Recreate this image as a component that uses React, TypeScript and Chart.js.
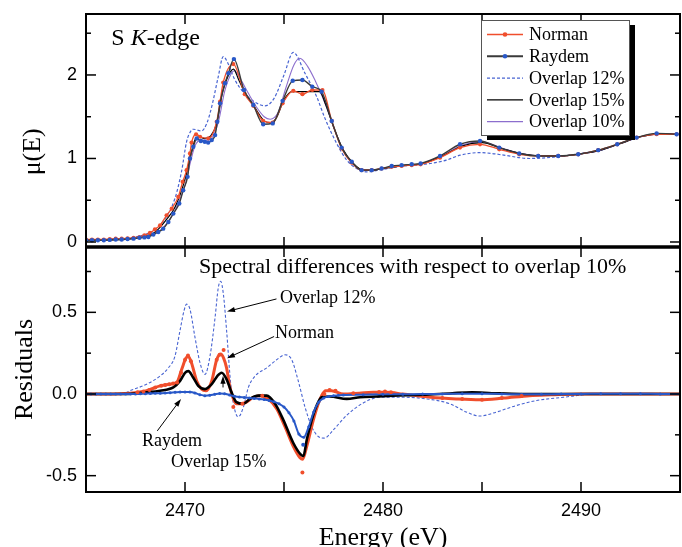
import React, { useEffect, useRef } from 'react';
import { Chart, registerables } from 'chart.js';

Chart.register(...registerables);

// ---------------- Top panel: mu(E) ----------------
const raydemE = [2465.0, 2465.3, 2465.6, 2465.9, 2466.2, 2466.5, 2466.8, 2467.1, 2467.4, 2467.7, 2467.95, 2468.15, 2468.4, 2468.65, 2468.9, 2469.16, 2469.41, 2469.71, 2469.91, 2470.13, 2470.25, 2470.42, 2470.59, 2470.8, 2471.0, 2471.17, 2471.35, 2471.52, 2471.63, 2471.77, 2472.02, 2472.19, 2472.47, 2472.98, 2473.45, 2473.95, 2474.43, 2474.93, 2475.44, 2475.93, 2476.43, 2476.9, 2477.41, 2477.91, 2478.42, 2478.92, 2479.43, 2479.93, 2480.44, 2480.94, 2481.45, 2481.9, 2482.88, 2483.89, 2484.9, 2485.87, 2486.88, 2487.84, 2488.85, 2489.86, 2490.87, 2491.83, 2492.81, 2493.82, 2494.83];
const raydemMu = [0.02, 0.02, 0.02, 0.02, 0.025, 0.03, 0.03, 0.035, 0.04, 0.05, 0.055, 0.06, 0.09, 0.12, 0.16, 0.24, 0.34, 0.46, 0.62, 0.78, 1.0, 1.14, 1.24, 1.21, 1.2, 1.19, 1.22, 1.28, 1.44, 1.66, 1.9, 2.02, 2.19, 1.82, 1.64, 1.41, 1.42, 1.69, 1.93, 1.94, 1.86, 1.8, 1.45, 1.13, 0.96, 0.86, 0.86, 0.88, 0.91, 0.92, 0.93, 0.94, 1.03, 1.17, 1.21, 1.13, 1.06, 1.03, 1.03, 1.05, 1.1, 1.17, 1.25, 1.3, 1.29];

const normanE = [2465.0, 2465.3, 2465.6, 2465.9, 2466.2, 2466.5, 2466.8, 2467.1, 2467.4, 2467.7, 2467.95, 2468.23, 2468.48, 2468.74, 2469.07, 2469.33, 2469.66, 2469.88, 2470.08, 2470.25, 2470.33, 2470.56, 2470.76, 2471.18, 2471.6, 2471.77, 2471.93, 2472.44, 2473.02, 2473.45, 2473.95, 2474.43, 2474.93, 2475.47, 2475.93, 2476.43, 2476.94, 2477.41, 2477.91, 2478.42, 2478.92, 2479.43, 2479.93, 2480.44, 2480.94, 2481.45, 2481.9, 2482.88, 2483.89, 2484.9, 2485.87, 2486.88, 2487.84, 2488.85, 2489.86, 2490.87, 2491.83, 2492.81, 2493.82, 2494.83];
const normanMu = [0.03, 0.03, 0.03, 0.03, 0.035, 0.04, 0.04, 0.045, 0.05, 0.06, 0.08, 0.11, 0.15, 0.2, 0.32, 0.4, 0.54, 0.72, 0.86, 1.06, 1.19, 1.29, 1.26, 1.24, 1.44, 1.68, 1.91, 2.13, 1.77, 1.63, 1.45, 1.43, 1.66, 1.81, 1.77, 1.82, 1.82, 1.45, 1.12, 0.95, 0.86, 0.86, 0.88, 0.9, 0.91, 0.92, 0.93, 1.01, 1.13, 1.17, 1.11, 1.05, 1.03, 1.03, 1.05, 1.1, 1.17, 1.25, 1.29, 1.29];

const ov15E = [2465, 2466, 2467, 2467.5, 2468, 2468.5, 2469, 2469.5, 2470, 2470.3, 2470.5, 2470.7, 2471.0, 2471.3, 2471.6, 2471.9, 2472.2, 2472.45, 2472.7, 2473.0, 2473.5, 2474.0, 2474.3, 2474.6, 2475.0, 2475.4, 2476.0, 2476.8, 2477.1, 2477.5, 2478.0, 2478.5, 2479.0, 2479.5, 2480, 2481, 2482, 2483, 2484, 2485, 2486, 2487, 2488, 2489, 2490, 2491, 2492, 2493, 2494, 2495];
const ov15Mu = [0.02, 0.025, 0.035, 0.05, 0.07, 0.12, 0.25, 0.42, 0.75, 1.05, 1.22, 1.26, 1.24, 1.27, 1.42, 1.8, 2.0, 2.07, 1.95, 1.8, 1.62, 1.45, 1.43, 1.48, 1.7, 1.8, 1.8, 1.8, 1.65, 1.38, 1.1, 0.94, 0.86, 0.86, 0.88, 0.915, 0.94, 1.03, 1.15, 1.19, 1.12, 1.055, 1.03, 1.03, 1.055, 1.1, 1.18, 1.26, 1.295, 1.29];

const ov10E = [2465, 2466, 2467, 2467.5, 2468, 2468.5, 2469, 2469.5, 2470, 2470.3, 2470.5, 2470.8, 2471.1, 2471.4, 2471.7, 2472.0, 2472.3, 2472.5, 2472.8, 2473.2, 2473.6, 2474.0, 2474.3, 2474.7, 2475.1, 2475.5, 2475.8, 2476.2, 2476.6, 2476.9, 2477.2, 2477.5, 2478.0, 2478.5, 2479.0, 2479.5, 2480, 2481, 2482, 2483, 2484, 2485, 2486, 2487, 2488, 2489, 2490, 2491, 2492, 2493, 2494, 2495];
const ov10Mu = [0.02, 0.025, 0.035, 0.045, 0.065, 0.1, 0.2, 0.38, 0.68, 0.98, 1.15, 1.22, 1.22, 1.26, 1.45, 1.8, 2.0, 2.05, 1.95, 1.78, 1.62, 1.5, 1.47, 1.55, 1.85, 2.12, 2.2, 2.1, 1.92, 1.76, 1.58, 1.38, 1.09, 0.93, 0.86, 0.86, 0.88, 0.915, 0.94, 1.035, 1.16, 1.2, 1.125, 1.06, 1.03, 1.03, 1.055, 1.1, 1.18, 1.26, 1.295, 1.29];

const ov12E = [2465, 2466, 2467, 2467.5, 2468.2, 2468.9, 2469.49, 2469.83, 2470.08, 2470.3, 2470.42, 2470.84, 2471.1, 2471.35, 2471.68, 2471.93, 2472.15, 2472.5, 2473.0, 2473.5, 2474.04, 2474.5, 2475.0, 2475.47, 2476.06, 2476.65, 2477.07, 2477.66, 2478.17, 2478.67, 2479.2, 2480, 2480.7, 2481.5, 2482.4, 2483.2, 2483.9, 2484.9, 2485.5, 2486.1, 2487.4, 2488.8, 2490, 2491, 2492, 2493, 2494, 2495];
const ov12Mu = [0.02, 0.03, 0.045, 0.06, 0.11, 0.25, 0.52, 0.85, 1.2, 1.33, 1.35, 1.33, 1.42, 1.62, 1.98, 2.22, 2.15, 1.95, 1.78, 1.68, 1.63, 1.72, 2.0, 2.27, 2.02, 1.74, 1.48, 1.18, 0.98, 0.88, 0.84, 0.87, 0.9, 0.92, 0.94, 0.98, 1.04, 1.07, 1.06, 1.04, 1.0, 1.02, 1.06, 1.1, 1.18, 1.26, 1.295, 1.29];

// ---------------- Bottom panel: residuals vs overlap 10% ----------------
const res12E = [2465, 2466, 2466.9, 2467.22, 2468.06, 2468.74, 2469.16, 2469.49, 2469.75, 2469.95, 2470.08, 2470.25, 2470.5, 2470.76, 2471.01, 2471.26, 2471.52, 2471.68, 2471.8, 2471.94, 2472.1, 2472.31, 2472.52, 2472.69, 2472.95, 2473.2, 2473.54, 2474.13, 2474.63, 2475.05, 2475.39, 2475.72, 2476.06, 2476.4, 2476.73, 2477.04, 2477.49, 2478.17, 2479.0, 2479.85, 2481.0, 2482.2, 2483.38, 2484.2, 2484.9, 2485.74, 2486.75, 2487.76, 2489.1, 2490.8, 2492, 2495];
const res12V = [0, 0, 0.003, 0.02, 0.06, 0.11, 0.16, 0.23, 0.39, 0.51, 0.55, 0.52, 0.35, 0.19, 0.12, 0.23, 0.47, 0.65, 0.69, 0.61, 0.39, 0.06, -0.1, -0.14, -0.08, 0.04, 0.11, 0.16, 0.21, 0.24, 0.21, 0.08, -0.08, -0.2, -0.26, -0.27, -0.22, -0.13, -0.055, -0.02, -0.02, -0.03, -0.06, -0.11, -0.135, -0.11, -0.07, -0.04, -0.02, 0, 0, 0];

const resNormanE = [2465, 2466, 2467.22, 2468.06, 2468.74, 2469.24, 2469.58, 2469.83, 2470.05, 2470.17, 2470.33, 2470.59, 2470.84, 2471.06, 2471.35, 2471.6, 2471.8, 2471.95, 2472.1, 2472.27, 2472.6, 2472.85, 2473.1, 2473.45, 2473.79, 2474.2, 2474.63, 2475.05, 2475.47, 2475.81, 2475.94, 2476.15, 2476.48, 2476.73, 2476.9, 2477.1, 2477.4, 2478, 2478.8, 2479.5, 2480.2, 2481, 2482.4, 2483.7, 2484.9, 2486.08, 2487.4, 2488.5, 2490, 2495];
const resNormanV = [0, 0, 0.005, 0.02, 0.05, 0.06, 0.07, 0.15, 0.22, 0.23, 0.19, 0.08, 0.03, 0.02, 0.08, 0.21, 0.245, 0.22, 0.16, 0.04, -0.06, -0.06, -0.05, -0.02, -0.01, -0.03, -0.09, -0.2, -0.32, -0.39, -0.4, -0.32, -0.16, -0.06, -0.01, 0.02, 0.02, 0.0, 0.005, 0.01, 0.01, 0.0, -0.02, -0.03, -0.035, -0.025, -0.01, -0.005, 0, 0];

const resNormanDotE = [2467.6, 2467.9, 2468.2, 2468.5, 2468.8, 2469.0, 2469.2, 2469.4, 2469.6, 2469.8, 2470.0, 2470.15, 2470.3, 2471.6, 2471.75, 2471.95, 2472.44, 2472.9, 2473.9, 2475.93, 2477.04, 2477.3, 2477.6, 2478.5, 2479.8, 2480.1, 2480.4, 2483.0, 2484.0, 2485.0, 2486.0, 2487.0];
const resNormanDotV = [0.01, 0.015, 0.025, 0.04, 0.05, 0.055, 0.06, 0.065, 0.07, 0.13, 0.21, 0.235, 0.2, 0.21, 0.24, 0.27, -0.08, -0.06, -0.01, -0.48, 0.0, 0.025, 0.02, 0.005, 0.012, 0.015, 0.01, -0.025, -0.03, -0.035, -0.025, -0.012];

const res15E = [2465, 2467, 2468, 2468.74, 2469.41, 2469.75, 2470.0, 2470.17, 2470.42, 2470.67, 2471.01, 2471.35, 2471.63, 2471.85, 2472.1, 2472.35, 2472.6, 2472.95, 2473.28, 2473.7, 2474.13, 2474.55, 2474.97, 2475.47, 2475.84, 2475.98, 2476.15, 2476.4, 2476.65, 2476.9, 2477.32, 2478.17, 2478.84, 2479.68, 2480.5, 2482, 2483.5, 2484.5, 2485.5, 2487, 2490, 2495];
const res15V = [0, 0, 0.01, 0.02, 0.04, 0.08, 0.13, 0.14, 0.1, 0.05, 0.03, 0.06, 0.11, 0.13, 0.09, 0.01, -0.05, -0.06, -0.03, -0.01, -0.01, -0.06, -0.16, -0.3, -0.37, -0.38, -0.28, -0.16, -0.07, -0.02, -0.015, -0.03, -0.02, -0.015, -0.01, -0.005, 0.005, 0.01, 0.005, 0, 0, 0];

const resRaydemE = [2465.0, 2465.25, 2465.5, 2465.75, 2466.0, 2466.25, 2466.5, 2466.75, 2467.0, 2467.25, 2467.5, 2467.75, 2468.0, 2468.25, 2468.5, 2468.75, 2469.0, 2469.25, 2469.5, 2469.75, 2470.0, 2470.25, 2470.5, 2470.75, 2471.0, 2471.25, 2471.5, 2471.75, 2472.0, 2472.25, 2472.5, 2472.75, 2473.0, 2473.25, 2473.5, 2473.75, 2474.0, 2474.25, 2474.5, 2474.75, 2475.0, 2475.25, 2475.5, 2475.75, 2476.0, 2476.25, 2476.5, 2476.75, 2477.0, 2477.25, 2477.5, 2477.75, 2478.0, 2479, 2480, 2481, 2482, 2483, 2484, 2485, 2486, 2487, 2488, 2489, 2490, 2491, 2492, 2493, 2494, 2495];
const resRaydemV = [0, 0, 0, 0, 0, 0, 0, 0, 0, 0, 0, 0.001, 0.002, 0.003, 0.004, 0.005, 0.006, 0.008, 0.01, 0.012, 0.013, 0.012, 0.006, -0.004, -0.01, -0.008, -0.002, 0.003, 0.002, -0.006, -0.014, -0.019, -0.021, -0.024, -0.027, -0.03, -0.034, -0.04, -0.048, -0.06, -0.08, -0.115, -0.165, -0.245, -0.265, -0.2, -0.11, -0.05, -0.025, -0.015, -0.01, -0.008, -0.006, -0.004, -0.002, -0.002, 0, 0, 0.002, 0.002, 0, -0.002, -0.002, 0, 0, 0.002, 0.002, 0.002, 0, 0];

const resRaydemDotE = [2475.97];
const resRaydemDotV = [-0.31];

// ---------------- Axes ----------------
const energyRange = [2465, 2495];
const energyTickLabels = [2470, 2480, 2490];
const energyMinorTicks = [2475, 2485];
const muRange = [-0.06, 2.73];
const muTicks = [0, 1, 2];
const muMinorTicks = [0.5, 1.5, 2.5];
const resRange = [-0.6, 0.9];
const resTicks = [-0.5, 0, 0.5];
const resMinorTicks = [-0.25, 0.25, 0.75];

const legendOrder = ['Norman', 'Raydem', 'Overlap 12%', 'Overlap 15%', 'Overlap 10%'];

// annotations (data coordinates of bottom panel)
const resTitle = { text: 'Spectral differences with respect to overlap 10%', x: 2470.71, y: 0.743 };
const resLabels = [
  { text: 'Overlap 12%', x: 2474.8, y: 0.556 },
  { text: 'Norman', x: 2474.55, y: 0.345 },
  { text: 'Raydem', x: 2467.83, y: -0.318 },
  { text: 'Overlap 15%', x: 2469.29, y: -0.446 },
];
const resArrows = [
  { from: [2474.62, 0.582], to: [2472.12, 0.505] },
  { from: [2474.5, 0.352], to: [2472.12, 0.219] },
  { from: [2468.6, -0.226], to: [2469.8, -0.03] },
  { from: [2471.92, 0.04], to: [2471.92, 0.112] },
];
const topLabelPos = { x: 2466.28, y: 2.36 };

const RED = 'rgb(240,78,44)';
const BLUE = 'rgb(40,88,200)';
const DASHBLUE = 'rgb(72,100,210)';
const PURPLE = 'rgb(140,110,205)';
const SERIF = "'Liberation Serif', 'Times New Roman', serif";
const SANS = "'Liberation Sans', Arial, sans-serif";

const pts = (xs: number[], ys: number[]) => xs.map((x, i) => ({ x, y: ys[i] }));

function line(ctx: CanvasRenderingContext2D, x1: number, y1: number, x2: number, y2: number) {
  ctx.beginPath();
  ctx.moveTo(x1, y1);
  ctx.lineTo(x2, y2);
  ctx.stroke();
}

function drawBox(chart: any, yMajor: number[], yMinor: number[], divider: 'top' | 'bottom') {
  const { ctx, chartArea: a } = chart;
  const xs = chart.scales.x;
  const ys = chart.scales.y;
  const MAJ = 10, MIN = 5;
  ctx.save();
  ctx.strokeStyle = '#000';
  ctx.lineWidth = 1.5;
  energyTickLabels.forEach((v) => {
    const p = xs.getPixelForValue(v);
    line(ctx, p, a.top, p, a.top + MAJ);
    line(ctx, p, a.bottom, p, a.bottom - MAJ);
  });
  energyMinorTicks.forEach((v) => {
    const p = xs.getPixelForValue(v);
    line(ctx, p, a.top, p, a.top + MAJ);
    line(ctx, p, a.bottom, p, a.bottom - MAJ);
  });
  yMajor.forEach((v) => {
    const p = ys.getPixelForValue(v);
    line(ctx, a.left, p, a.left + MAJ, p);
    line(ctx, a.right, p, a.right - MAJ, p);
  });
  yMinor.forEach((v) => {
    const p = ys.getPixelForValue(v);
    line(ctx, a.left, p, a.left + MIN, p);
    line(ctx, a.right, p, a.right - MIN, p);
  });
  ctx.lineWidth = 2;
  ctx.strokeRect(a.left, a.top, a.right - a.left, a.bottom - a.top);
  ctx.lineWidth = 3;
  const dy = divider === 'bottom' ? a.bottom : a.top;
  line(ctx, a.left - 1, dy, a.right + 1, dy);
  ctx.restore();
}

function arrow(ctx: CanvasRenderingContext2D, x1: number, y1: number, x2: number, y2: number) {
  const ang = Math.atan2(y2 - y1, x2 - x1);
  const L = 8, W = 2.6;
  ctx.beginPath();
  ctx.moveTo(x1, y1);
  ctx.lineTo(x2 - Math.cos(ang) * 4, y2 - Math.sin(ang) * 4);
  ctx.stroke();
  ctx.beginPath();
  ctx.moveTo(x2, y2);
  ctx.lineTo(x2 - L * Math.cos(ang) + W * Math.sin(ang), y2 - L * Math.sin(ang) - W * Math.cos(ang));
  ctx.lineTo(x2 - L * Math.cos(ang) - W * Math.sin(ang), y2 - L * Math.sin(ang) + W * Math.cos(ang));
  ctx.closePath();
  ctx.fill();
}

const topDecor = {
  id: 'topDecor',
  afterDraw(chart: any) {
    const { ctx, chartArea: a } = chart;
    const xs = chart.scales.x;
    const ys = chart.scales.y;
    drawBox(chart, muTicks, muMinorTicks, 'bottom');
    ctx.save();
    ctx.fillStyle = '#000';
    ctx.textBaseline = 'alphabetic';
    ctx.textAlign = 'left';
    let x = xs.getPixelForValue(topLabelPos.x);
    const y = ys.getPixelForValue(topLabelPos.y);
    ctx.font = `24px ${SERIF}`;
    ctx.fillText('S ', x, y);
    x += ctx.measureText('S ').width;
    ctx.font = `italic 24px ${SERIF}`;
    ctx.fillText('K', x, y);
    x += ctx.measureText('K').width;
    ctx.font = `24px ${SERIF}`;
    ctx.fillText('-edge', x, y);

    ctx.save();
    ctx.translate(a.left - 53, ys.getPixelForValue(1.08));
    ctx.rotate(-Math.PI / 2);
    ctx.font = `26px ${SERIF}`;
    ctx.textAlign = 'center';
    ctx.textBaseline = 'middle';
    ctx.fillText('\u03bc(E)', 0, 0);
    ctx.restore();

    const bw = 148, bh = 115;
    const bx = a.right - 199, by = a.top + 6;
    ctx.fillStyle = '#000';
    ctx.fillRect(bx + 6, by + 5, bw, bh);
    ctx.fillStyle = '#fff';
    ctx.fillRect(bx, by, bw, bh);
    ctx.strokeStyle = '#555';
    ctx.lineWidth = 1;
    ctx.strokeRect(bx + 0.5, by + 0.5, bw, bh);
    ctx.font = `18px ${SERIF}`;
    ctx.textBaseline = 'middle';
    legendOrder.forEach((name, i) => {
      const ds = chart.data.datasets.find((d: any) => d.label === name);
      const ry = by + 14.5 + i * 21.8;
      ctx.save();
      ctx.strokeStyle = ds.borderColor;
      ctx.lineWidth = name === 'Raydem' ? 2 : 1.3;
      ctx.setLineDash(ds.borderDash || []);
      line(ctx, bx + 6, ry, bx + 42, ry);
      ctx.setLineDash([]);
      if (ds.pointRadius > 0) {
        ctx.fillStyle = ds.pointBackgroundColor;
        ctx.beginPath();
        ctx.arc(bx + 24, ry, 2.3, 0, Math.PI * 2);
        ctx.fill();
      }
      ctx.restore();
      ctx.fillStyle = '#000';
      ctx.fillText(name, bx + 48, ry + 1);
    });
    ctx.restore();
  },
};

const botDecor = {
  id: 'botDecor',
  afterDraw(chart: any) {
    const { ctx } = chart;
    const xs = chart.scales.x;
    const ys = chart.scales.y;
    drawBox(chart, resTicks, resMinorTicks, 'top');
    ctx.save();
    ctx.fillStyle = '#000';
    ctx.strokeStyle = '#000';
    ctx.lineWidth = 1;
    ctx.textAlign = 'left';
    ctx.textBaseline = 'alphabetic';
    ctx.font = `22px ${SERIF}`;
    ctx.fillText(resTitle.text, xs.getPixelForValue(resTitle.x), ys.getPixelForValue(resTitle.y));
    ctx.font = `18px ${SERIF}`;
    resLabels.forEach((l) => ctx.fillText(l.text, xs.getPixelForValue(l.x), ys.getPixelForValue(l.y)));
    resArrows.forEach((ar) =>
      arrow(
        ctx,
        xs.getPixelForValue(ar.from[0]),
        ys.getPixelForValue(ar.from[1]),
        xs.getPixelForValue(ar.to[0]),
        ys.getPixelForValue(ar.to[1])
      )
    );
    ctx.restore();
  },
};

const yTickFont = { family: SANS, size: 18 };

const fixY = (s: any) => {
  s.width = 86;
  s.paddingTop = 0;
  s.paddingBottom = 0;
};

function topConfig(): any {
  return {
    type: 'line',
    data: {
      datasets: [
        { label: 'Raydem', data: pts(raydemE, raydemMu), borderColor: '#3a3a3a', borderWidth: 1.4, pointRadius: 2.2, pointBackgroundColor: BLUE, pointBorderWidth: 0, cubicInterpolationMode: 'monotone' },
        { label: 'Norman', data: pts(normanE, normanMu), borderColor: RED, borderWidth: 1.3, pointRadius: 2.1, pointBackgroundColor: RED, pointBorderWidth: 0, cubicInterpolationMode: 'monotone' },
        { label: 'Overlap 15%', data: pts(ov15E, ov15Mu), borderColor: '#000', borderWidth: 1.2, pointRadius: 0, cubicInterpolationMode: 'monotone' },
        { label: 'Overlap 10%', data: pts(ov10E, ov10Mu), borderColor: PURPLE, borderWidth: 1.1, pointRadius: 0, cubicInterpolationMode: 'monotone' },
        { label: 'Overlap 12%', data: pts(ov12E, ov12Mu), borderColor: DASHBLUE, borderWidth: 1.2, borderDash: [3, 2], pointRadius: 0, cubicInterpolationMode: 'monotone' },
      ],
    },
    options: {
      responsive: false,
      animation: false,
      devicePixelRatio: 1,
      layout: { autoPadding: false, padding: { left: 0, top: 14, right: 2, bottom: 3 } },
      scales: {
        x: { type: 'linear', min: energyRange[0], max: energyRange[1], display: false },
        y: {
          type: 'linear',
          min: muRange[0],
          max: muRange[1],
          afterFit: fixY,
          afterBuildTicks: (s: any) => { s.ticks = muTicks.map((v) => ({ value: v })); },
          grid: { display: false, drawTicks: false },
          border: { display: false },
          ticks: { font: yTickFont, color: '#000', padding: 9, callback: (v: any) => String(v) },
        },
      },
      plugins: { legend: { display: false }, tooltip: { enabled: false } },
    },
    plugins: [topDecor],
  };
}

function botConfig(): any {
  return {
    type: 'line',
    data: {
      datasets: [
        { label: 'Raydem points', data: pts(resRaydemDotE, resRaydemDotV), showLine: false, pointRadius: 2, pointBackgroundColor: BLUE, pointBorderWidth: 0 },
        { label: 'Norman points', data: pts(resNormanDotE, resNormanDotV), showLine: false, pointRadius: 2, pointBackgroundColor: RED, pointBorderWidth: 0 },
        { label: 'Raydem', data: pts(resRaydemE, resRaydemV), borderColor: BLUE, borderWidth: 2, pointRadius: 1.5, pointBackgroundColor: BLUE, pointBorderWidth: 0, cubicInterpolationMode: 'monotone' },
        { label: 'Overlap 15%', data: pts(res15E, res15V), borderColor: '#000', borderWidth: 2.6, pointRadius: 0, cubicInterpolationMode: 'monotone' },
        { label: 'Norman', data: pts(resNormanE, resNormanV), borderColor: RED, borderWidth: 3, pointRadius: 0, cubicInterpolationMode: 'monotone' },
        { label: 'Overlap 12%', data: pts(res12E, res12V), borderColor: DASHBLUE, borderWidth: 1.1, borderDash: [3, 2], pointRadius: 0, cubicInterpolationMode: 'monotone' },
      ],
    },
    options: {
      responsive: false,
      animation: false,
      devicePixelRatio: 1,
      layout: { autoPadding: false, padding: { left: 0, top: 2, right: 2, bottom: 0 } },
      scales: {
        x: {
          type: 'linear',
          min: energyRange[0],
          max: energyRange[1],
          afterFit: (s: any) => { s.height = 65; s.paddingLeft = 0; s.paddingRight = 0; },
          afterBuildTicks: (s: any) => { s.ticks = energyTickLabels.map((v) => ({ value: v })); },
          grid: { display: false, drawTicks: false },
          border: { display: false },
          ticks: { font: yTickFont, color: '#000', padding: 8, autoSkip: false, maxRotation: 0, callback: (v: any) => String(v) },
          title: { display: true, text: 'Energy (eV)', color: '#000', font: { family: SERIF, size: 26 }, padding: { top: 0, bottom: 3 } },
        },
        y: {
          type: 'linear',
          min: resRange[0],
          max: resRange[1],
          afterFit: fixY,
          afterBuildTicks: (s: any) => { s.ticks = resTicks.map((v) => ({ value: v })); },
          grid: { display: false, drawTicks: false },
          border: { display: false },
          ticks: { font: yTickFont, color: '#000', padding: 9, callback: (v: any) => Number(v).toFixed(1) },
          title: { display: true, text: 'Residuals', color: '#000', font: { family: SERIF, size: 26 }, padding: { top: 10, bottom: 0 } },
        },
      },
      plugins: { legend: { display: false }, tooltip: { enabled: false } },
    },
    plugins: [botDecor],
  };
}

export default function App() {
  const topRef = useRef<HTMLCanvasElement>(null);
  const botRef = useRef<HTMLCanvasElement>(null);
  useEffect(() => {
    const top = new Chart(topRef.current as HTMLCanvasElement, topConfig());
    const bot = new Chart(botRef.current as HTMLCanvasElement, botConfig());
    return () => {
      top.destroy();
      bot.destroy();
    };
  }, []);
  return (
    <div style={{ position: 'absolute', left: 0, top: 0, width: 682, height: 547, overflow: 'hidden', background: '#fff' }}>
      <canvas ref={topRef} width={682} height={250} style={{ position: 'absolute', left: 0, top: 0, width: 682, height: 250 }} />
      <canvas ref={botRef} width={682} height={312} style={{ position: 'absolute', left: 0, top: 245, width: 682, height: 312 }} />
    </div>
  );
}
